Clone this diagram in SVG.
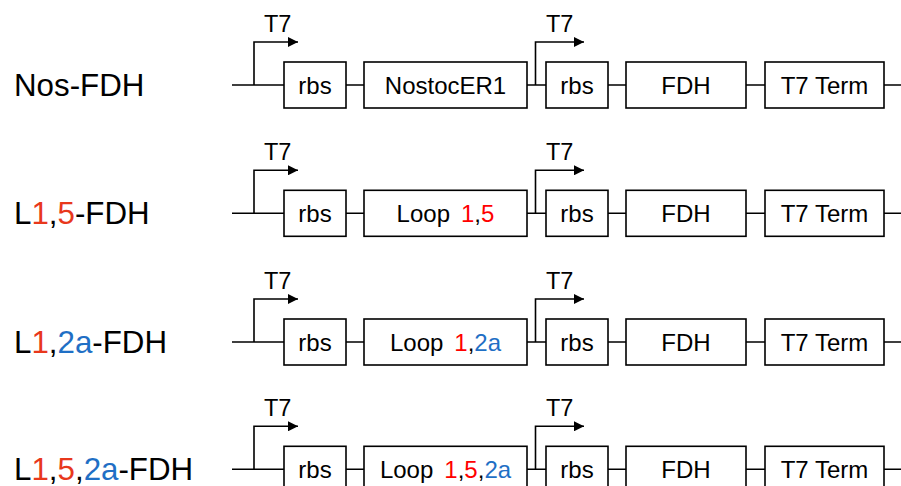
<svg xmlns="http://www.w3.org/2000/svg" width="901" height="486" viewBox="0 0 901 486">
<defs>
<style>
text{font-family:"Liberation Sans",Arial,sans-serif;fill:#000}
.lbl{font-size:31.3px}
.bt{font-size:24px;text-anchor:middle}
.t7{font-size:23.5px}
.box{fill:#fff;stroke:#000;stroke-width:1.6}
.ln{fill:none;stroke:#000;stroke-width:1.6}
.r{fill:#ff0000}
.ro{fill:#e8381c}
.b{fill:#1f6fc5}
</style>
<marker id="ah" viewBox="0 0 10 10" refX="10" refY="5" markerWidth="10" markerHeight="10" markerUnits="userSpaceOnUse" orient="auto">
<path d="M0,0 L10,5 L0,10 z" fill="#000"/>
</marker>
<g id="row">
<g class="conn">
<path class="ln" d="M232,85 H284 M346,85 H364 M527,85 H546 M608,85 H626 M746,85 H765 M884,85 H901"/>
<path class="ln" d="M254,85 V42 H298" marker-end="url(#ah)"/>
<path class="ln" d="M535.5,85 V42 H584" marker-end="url(#ah)"/>
</g>
<text class="t7" x="264" y="32">T7</text>
<text class="t7" x="546" y="32">T7</text>
<rect class="box" x="284" y="62" width="62" height="46"/>
<text class="bt" x="315" y="93.5">rbs</text>
<rect class="box" x="364" y="62" width="163" height="46"/>
<rect class="box" x="546" y="62" width="62" height="46"/>
<text class="bt" x="577" y="93.5">rbs</text>
<rect class="box" x="626" y="62" width="120" height="46"/>
<text class="bt" x="686" y="93.5">FDH</text>
<rect class="box" x="765" y="62" width="119" height="46"/>
<text class="bt" x="824.5" y="93.5">T7 Term</text>
</g>
</defs>
<g id="nos-fdh">
<use href="#row"/>
<text class="lbl" x="14" y="96">Nos-FDH</text>
<text class="bt" x="445.5" y="93.5">NostocER1</text>
</g>
<g id="l15-fdh" transform="translate(0,128.3)">
<use href="#row"/>
<text class="lbl" x="14" y="96">L<tspan class="ro">1</tspan>,<tspan class="ro">5</tspan>-FDH</text>
<text class="bt" x="445.5" y="93.5">Loop<tspan class="r" dx="11">1</tspan>,<tspan class="r">5</tspan></text>
</g>
<g id="l12a-fdh" transform="translate(0,257)">
<use href="#row"/>
<text class="lbl" x="14" y="96">L<tspan class="ro">1</tspan>,<tspan class="b">2a</tspan>-FDH</text>
<text class="bt" x="445.5" y="93.5">Loop<tspan class="r" dx="11">1</tspan>,<tspan class="b">2a</tspan></text>
</g>
<g id="l152a-fdh" transform="translate(0,384.3)">
<use href="#row"/>
<text class="lbl" x="14" y="96">L<tspan class="ro">1</tspan>,<tspan class="ro">5</tspan>,<tspan class="b">2a</tspan>-FDH</text>
<text class="bt" x="445.5" y="93.5">Loop<tspan class="r" dx="11">1</tspan>,<tspan class="r">5</tspan>,<tspan class="b">2a</tspan></text>
</g>
</svg>
